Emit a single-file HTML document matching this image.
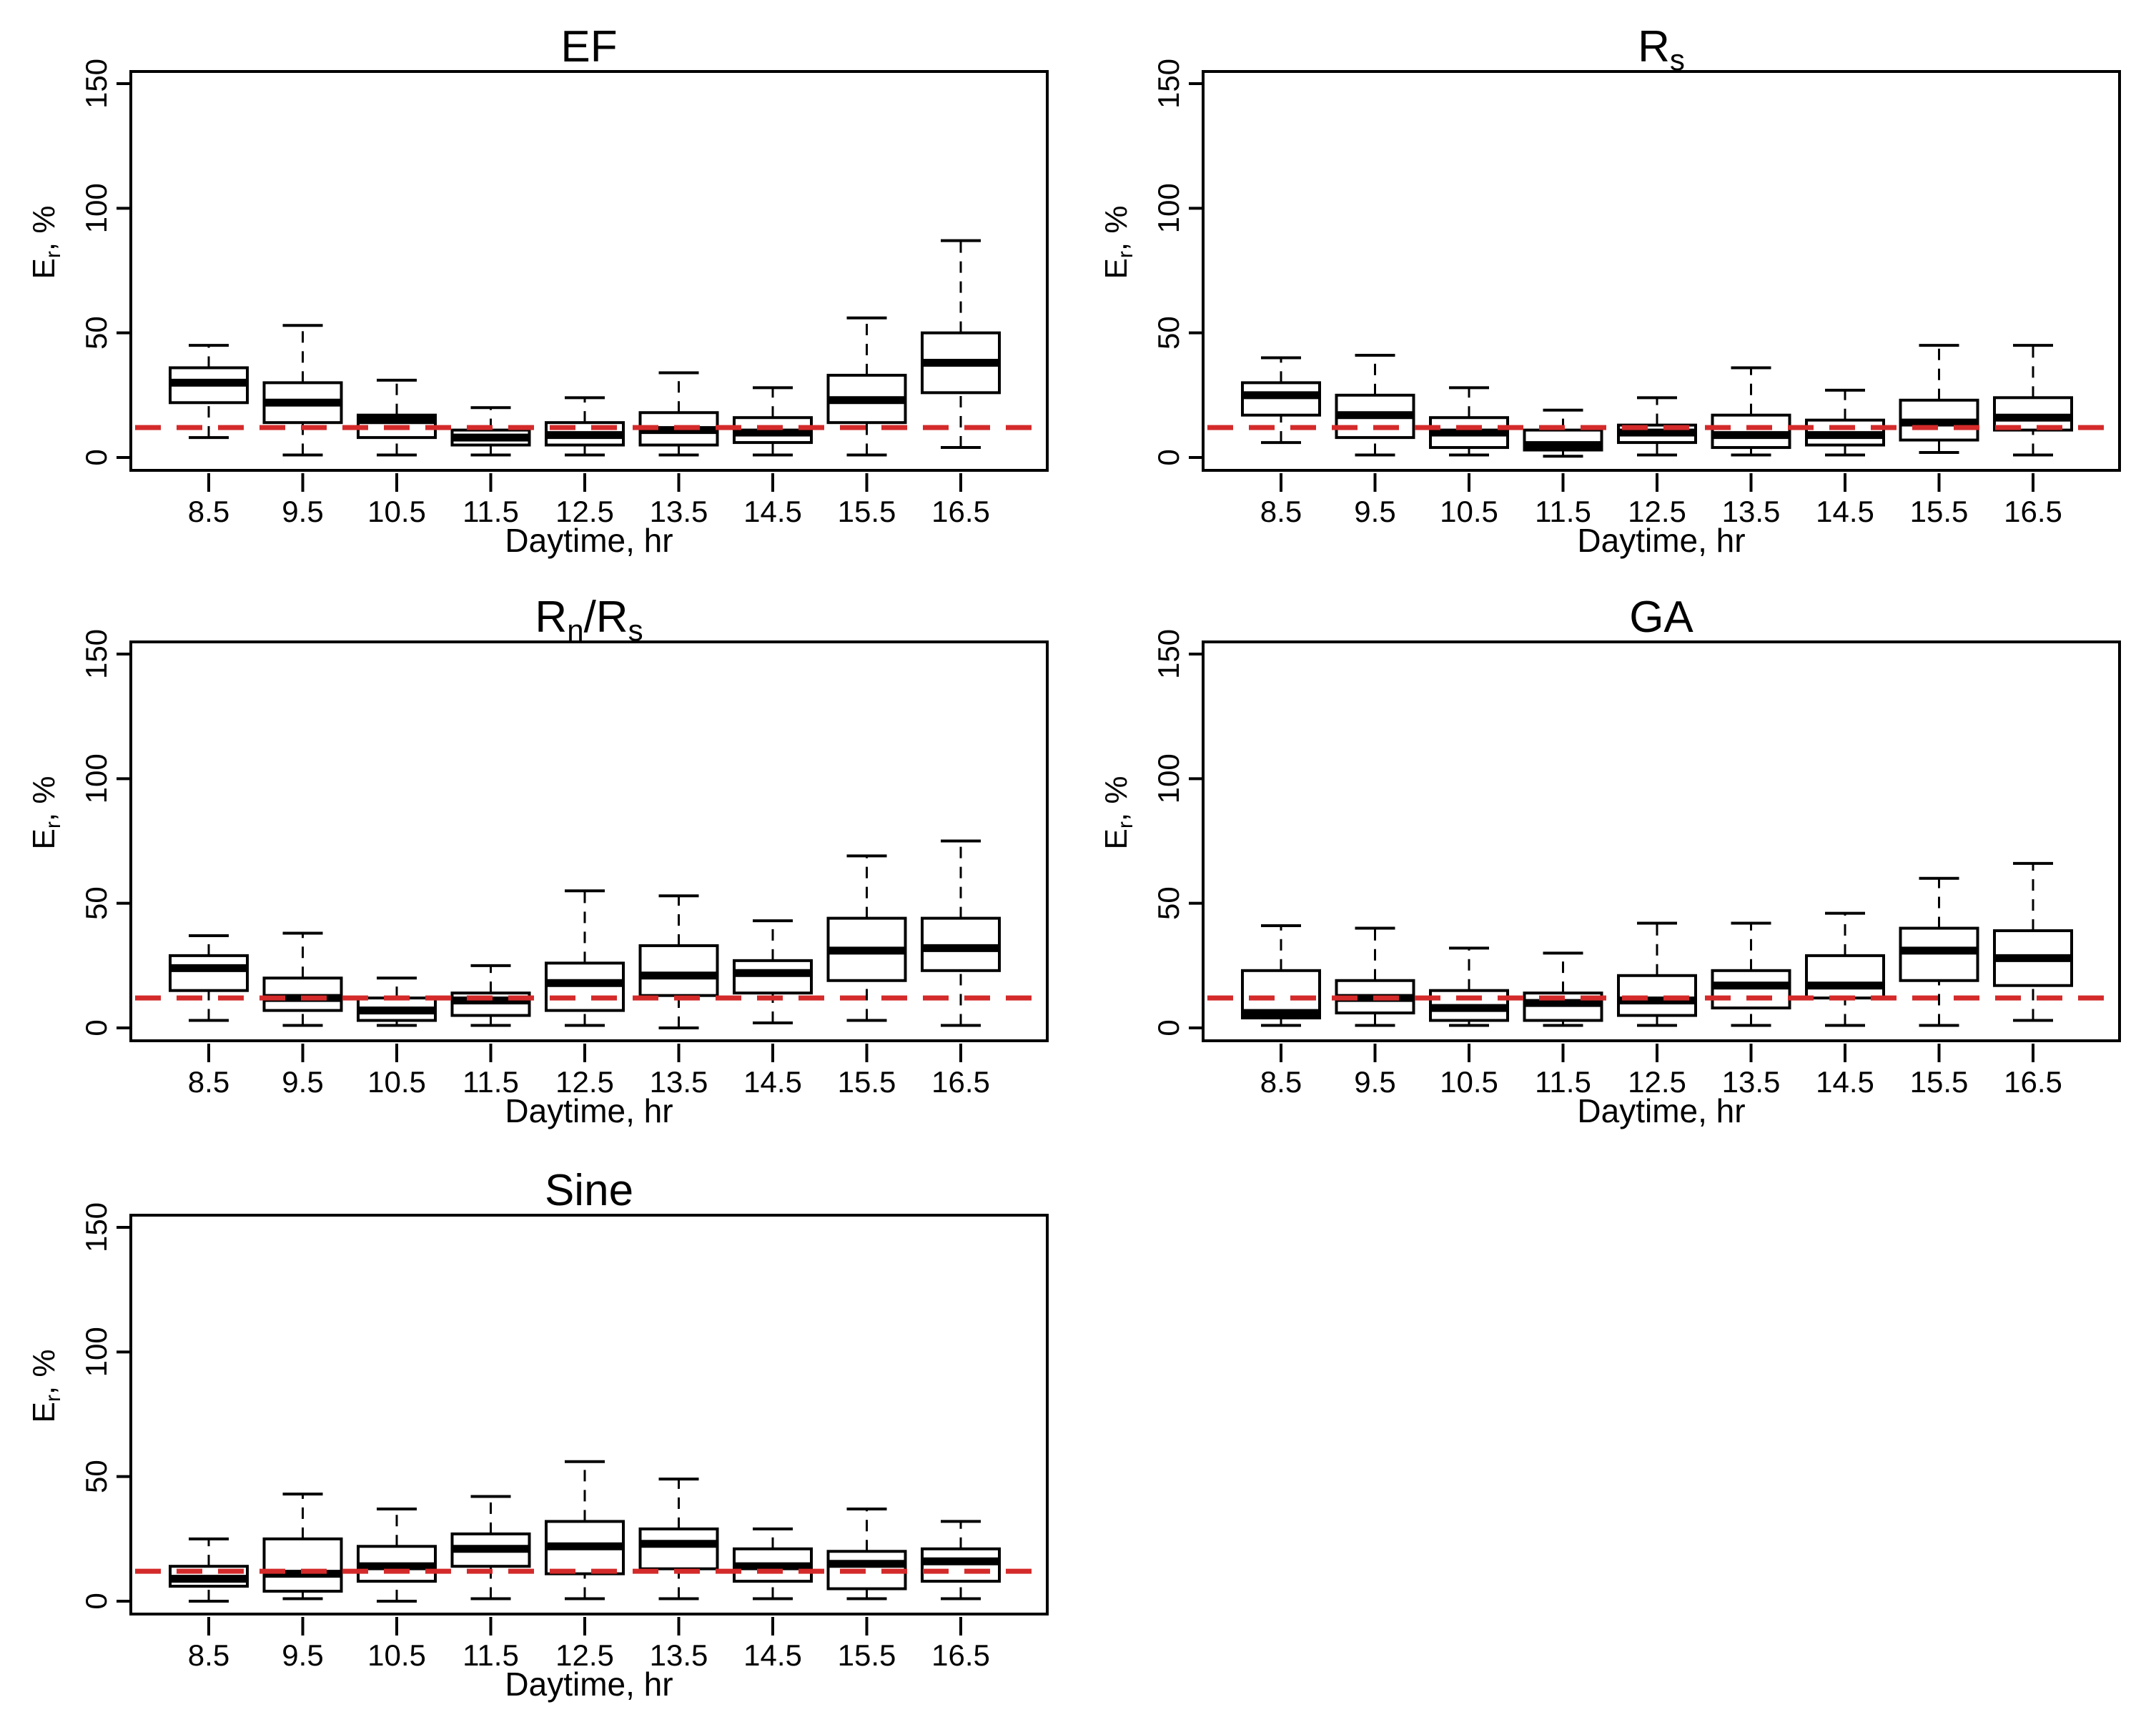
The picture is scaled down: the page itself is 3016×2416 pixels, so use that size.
<!DOCTYPE html>
<html><head><meta charset="utf-8"><style>
html,body{margin:0;padding:0;background:#fff;}
svg{display:block;font-family:"Liberation Sans",sans-serif;}
</style></head><body>
<svg id="c" width="3016" height="2416" viewBox="0 0 3016 2416" xmlns="http://www.w3.org/2000/svg"></svg>
<script>
const categories = ["8.5","9.5","10.5","11.5","12.5","13.5","14.5","15.5","16.5"];
const yTicks = [0,50,100,150];
const refLine = 12;
// each box: [low whisker, q1, median, q3, high whisker]
const efBoxes = [[8,22,30,36,45],[1,14,22,30,53],[1,8,15,17,31],[1,5,8,11,20],[1,5,9,14,24],[1,5,11,18,34],[1,6,10,16,28],[1,14,23,33,56],[4,26,38,50,87]];
const rsBoxes = [[6,17,25,30,40],[1,8,17,25,41],[1,4,10,16,28],[0.5,3,5,11,19],[1,6,10,13,24],[1,4,9,17,36],[1,5,9,15,27],[2,7,14,23,45],[1,11,16,24,45]];
const rnrsBoxes = [[3,15,24,29,37],[1,7,12,20,38],[1,3,7,12,20],[1,5,11,14,25],[1,7,18,26,55],[0,13,21,33,53],[2,14,22,27,43],[3,19,31,44,69],[1,23,32,44,75]];
const gaBoxes = [[1,4,6,23,41],[1,6,12,19,40],[1,3,8,15,32],[1,3,10,14,30],[1,5,11,21,42],[1,8,17,23,42],[1,12,17,29,46],[1,19,31,40,60],[3,17,28,39,66]];
const sineBoxes = [[0,6,9,14,25],[1,4,11,25,43],[0,8,14,22,37],[1,14,21,27,42],[1,11,22,32,56],[1,13,23,29,49],[1,8,14,21,29],[1,5,15,20,37],[1,8,16,21,32]];

const NS="http://www.w3.org/2000/svg";
const svg=document.getElementById('c');
function mk(tag,attrs,parent){const e=document.createElementNS(NS,tag);for(const k in attrs)e.setAttribute(k,attrs[k]);(parent||svg).appendChild(e);return e;}

const panels=[
 {name:"ef",title:"EF",sub:null,data:efBoxes,left:183,top:100},
 {name:"rs",title:"R",sub:"s",data:rsBoxes,left:1683,top:100},
 {name:"rn-rs",title:"R",sub:"n",title2:"/R",sub2:"s",data:rnrsBoxes,left:183,top:898},
 {name:"ga",title:"GA",sub:null,data:gaBoxes,left:1683,top:898},
 {name:"sine",title:"Sine",sub:null,data:sineBoxes,left:183,top:1700}
];
const W=1282,H=558;
panels.forEach(p=>{
  const g=mk('g',{});
  
  
  const y=v=>p.top+540-v*(523/150);
  const x=i=>p.left+109+i*131.5;
  const fr=mk('rect',{x:p.left,y:p.top,width:W,height:H,fill:'none',stroke:'#000','stroke-width':4},g);
  
  const t=mk('text',{x:p.left+W/2,y:p.top-14,'text-anchor':'middle','font-size':62,fill:'#000'},g);
  
  t.appendChild(document.createTextNode(p.title));
  if(p.sub){const s=mk('tspan',{'font-size':42,dy:12},t);s.textContent=p.sub;}
  if(p.title2){const s=mk('tspan',{'font-size':62,dy:-12},t);s.textContent=p.title2;const s2=mk('tspan',{'font-size':42,dy:12},t);s2.textContent=p.sub2;}
  const ax=p.left;
  yTicks.forEach(v=>{
    const tk=mk('line',{x1:ax,x2:ax-20,y1:y(v),y2:y(v),stroke:'#000','stroke-width':4},g);
    
    const tl=mk('text',{x:0,y:0,transform:`translate(${ax-34},${y(v)}) rotate(-90)`,'text-anchor':'middle','font-size':42,fill:'#000'},g);
    
    tl.textContent=v;
  });
  const yl=mk('text',{x:0,y:0,transform:`translate(${p.left-107},${p.top+H/2-40}) rotate(-90)`,'text-anchor':'middle','font-size':44,fill:'#000'},g);
  
  yl.appendChild(document.createTextNode('E'));
  const ys=mk('tspan',{'font-size':30,dy:8},yl);ys.textContent='r';
  const ys2=mk('tspan',{dy:-8},yl);ys2.textContent=', %';
  const xb=p.top+H+4;
  categories.forEach((c,i)=>{
    const tk=mk('line',{x1:x(i),x2:x(i),y1:xb,y2:xb+26,stroke:'#000','stroke-width':4},g);
    
    const tl=mk('text',{x:x(i),y:p.top+H+72,'text-anchor':'middle','font-size':42,fill:'#000'},g);
    
    tl.textContent=c;
  });
  const xl=mk('text',{x:p.left+W/2,y:p.top+H+114,'text-anchor':'middle','font-size':46,fill:'#000'},g);
  
  xl.textContent='Daytime, hr';
  p.data.forEach((b,i)=>{
    const bg=mk('g',{},g);
    
    
    const cx=x(i),hw=54,cw=28;
    mk('line',{x1:cx,x2:cx,y1:y(b[0]),y2:y(b[1]),stroke:'#000','stroke-width':3,'stroke-dasharray':'16 12'},bg);
    mk('line',{x1:cx,x2:cx,y1:y(b[3]),y2:y(b[4]),stroke:'#000','stroke-width':3,'stroke-dasharray':'16 12'},bg);
    mk('line',{x1:cx-cw,x2:cx+cw,y1:y(b[0]),y2:y(b[0]),stroke:'#000','stroke-width':4},bg);
    mk('line',{x1:cx-cw,x2:cx+cw,y1:y(b[4]),y2:y(b[4]),stroke:'#000','stroke-width':4},bg);
    mk('rect',{x:cx-hw,y:y(b[3]),width:2*hw,height:Math.max(1,y(b[1])-y(b[3])),fill:'#fff',stroke:'#000','stroke-width':4},bg);
    mk('line',{x1:cx-hw,x2:cx+hw,y1:y(b[2]),y2:y(b[2]),stroke:'#000','stroke-width':11},bg);
  });
  const rl=mk('line',{x1:p.left+6,x2:p.left+W-4,y1:y(refLine),y2:y(refLine),stroke:'#d42a2a','stroke-width':7,'stroke-dasharray':'36 22'},g);
  
});
</script>
</body></html>
